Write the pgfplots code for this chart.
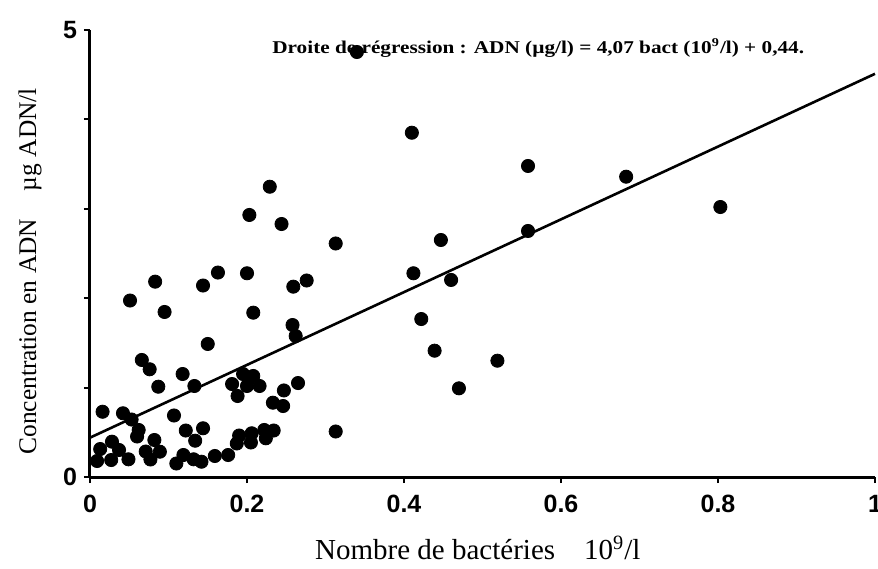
\documentclass[border=0pt]{standalone}
\usepackage{fontspec}
\setmainfont{Liberation Serif}
\newfontfamily\tickfont{Liberation Sans}
\usepackage{pgfplots}
\pgfplotsset{compat=1.18}
\pgfplotstableread{
x y
0.016 0.730
0.042 0.713
0.053 0.643
0.062 0.526
0.107 0.688
0.122 0.520
0.144 0.545
0.060 0.453
0.082 0.414
0.134 0.406
0.028 0.395
0.013 0.313
0.037 0.302
0.071 0.285
0.089 0.283
0.009 0.179
0.027 0.190
0.049 0.198
0.077 0.196
0.110 0.151
0.119 0.246
0.132 0.198
0.142 0.171
0.159 0.235
0.176 0.246
0.190 0.464
0.187 0.375
0.206 0.489
0.205 0.386
0.222 0.526
0.234 0.520
0.224 0.433
0.313 0.509
0.087 1.010
0.133 1.018
0.181 1.040
0.195 1.152
0.208 1.130
0.200 1.018
0.216 1.018
0.188 0.906
0.247 0.968
0.265 1.051
0.233 0.831
0.246 0.794
0.066 1.309
0.076 1.205
0.118 1.152
0.150 1.488
0.051 1.974
0.083 2.185
0.095 1.846
0.144 2.142
0.163 2.287
0.200 2.279
0.208 1.838
0.259 2.129
0.276 2.198
0.258 1.700
0.262 1.577
0.229 3.247
0.203 2.931
0.244 2.830
0.313 2.612
0.410 3.851
0.558 3.479
0.683 3.359
0.558 2.752
0.447 2.651
0.412 2.279
0.460 2.204
0.422 1.767
0.439 1.413
0.519 1.301
0.470 0.992
0.803 3.020
0.340 4.754
}\dots
\begin{document}
\begin{tikzpicture}
\useasboundingbox (-45pt,-45.5pt) rectangle (394pt,238.5pt);
\begin{axis}[name=ax, at={(0,0)}, anchor=south west,
 scale only axis, width=392.5pt, height=223.5pt,
 xmin=0, xmax=1, ymin=0, ymax=5,
 axis lines*=left, axis line style={line width=1.5pt, -},
 xtick={0,0.2,0.4,0.6,0.8,1}, ytick={0,5},
 extra y ticks={1,2,3,4}, extra y tick labels={},
 tick align=outside, major tick length=3pt,
 tick style={line width=1pt, black},
 /pgf/number format/assume math mode=true,
 ticklabel style={font=\tickfont\bfseries\fontsize{12.5}{12.5}\selectfont},
 xticklabel style={yshift=-2.5pt},
 clip=false,
]
\addplot[only marks, mark=*, mark size=3.3pt, black] table {\dots};
\addplot[black, line width=1.3pt] coordinates {(0,0.44) (1,4.51)};
\node[font=\bfseries\fontsize{9}{9}\selectfont] at (axis cs:0.571,4.80) {\scalebox{1.18}[1]{Droite de régression : ADN (µg/l) = 4,07 bact (10\textsuperscript{9}/l) + 0,44.}};
\node[rotate=90, font=\fontsize{12.7}{12.7}\selectfont] at (axis cs:-0.0764,2.30) {Concentration en ADN\hspace{1.1em}µg ADN/l};
\node[font=\fontsize{14.5}{14.5}\selectfont] at (axis cs:0.494,-0.794) {Nombre de bactéries\hspace{1em}10\textsuperscript{9}/l};
\end{axis}
\end{tikzpicture}
\end{document}
